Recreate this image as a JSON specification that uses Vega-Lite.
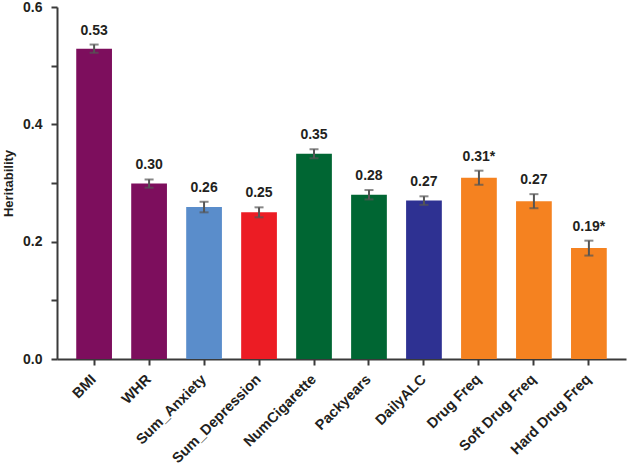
{
  "$schema": "https://vega.github.io/schema/vega-lite/v6.json",
  "autosize": "none",
  "width": 569,
  "height": 352,
  "padding": {"left": 57, "top": 7, "right": 6, "bottom": 105},
  "background": "white",
  "config": {
    "view": {"stroke": null},
    "font": "Liberation Sans",
    "axis": {"labelFont": "Liberation Sans", "titleFont": "Liberation Sans", "grid": false}
  },
  "data": {
    "values": [
      {"trait": "BMI", "h2": 0.529, "lo": 0.522, "hi": 0.536, "label": "0.53", "color": "#7D0E5D"},
      {"trait": "WHR", "h2": 0.299, "lo": 0.292, "hi": 0.306, "label": "0.30", "color": "#7D0E5D"},
      {"trait": "Sum_Anxiety", "h2": 0.259, "lo": 0.250, "hi": 0.268, "label": "0.26", "color": "#5A8DCB"},
      {"trait": "Sum_Depression", "h2": 0.250, "lo": 0.2415, "hi": 0.2585, "label": "0.25", "color": "#EC1C24"},
      {"trait": "NumCigarette", "h2": 0.350, "lo": 0.3424, "hi": 0.3576, "label": "0.35", "color": "#006633"},
      {"trait": "Packyears", "h2": 0.280, "lo": 0.272, "hi": 0.288, "label": "0.28", "color": "#006633"},
      {"trait": "DailyALC", "h2": 0.270, "lo": 0.2627, "hi": 0.2773, "label": "0.27", "color": "#2E3192"},
      {"trait": "Drug Freq", "h2": 0.309, "lo": 0.297, "hi": 0.321, "label": "0.31*", "color": "#F58220"},
      {"trait": "Soft Drug Freq", "h2": 0.269, "lo": 0.257, "hi": 0.281, "label": "0.27", "color": "#F58220"},
      {"trait": "Hard Drug Freq", "h2": 0.189, "lo": 0.1763, "hi": 0.2017, "label": "0.19*", "color": "#F58220"}
    ]
  },
  "encoding": {
    "x": {
      "field": "trait",
      "type": "nominal",
      "sort": null,
      "scale": {"paddingInner": 0.35, "paddingOuter": 0.35},
      "axis": {
        "title": null,
        "labelAngle": -45,
        "labelAlign": "right",
        "labelBaseline": "middle",
        "labelFontSize": 14.5,
        "labelFontWeight": "bold",
        "labelColor": "#231f20",
        "labelPadding": 12,
        "tickSize": 6,
        "tickWidth": 2,
        "tickColor": "#3a3a3a",
        "domainWidth": 2,
        "domainColor": "#3a3a3a"
      }
    }
  },
  "layer": [
    {
      "mark": {"type": "bar"},
      "encoding": {
        "y": {
          "field": "h2",
          "type": "quantitative",
          "scale": {"domain": [0, 0.6], "nice": false},
          "axis": {
            "title": "Heritability",
            "titleFontSize": 13,
            "titleFontWeight": "bold",
            "titleColor": "#231f20",
            "titlePadding": 7,
            "values": [0, 0.1, 0.2, 0.3, 0.4, 0.5, 0.6],
            "labelExpr": "(round(datum.value*10) % 2 == 0) ? format(datum.value, '.1f') : ''",
            "labelFontSize": 14,
            "labelFontWeight": "bold",
            "labelColor": "#231f20",
            "labelPadding": 9,
            "tickSize": 6,
            "tickWidth": 2,
            "tickColor": "#3a3a3a",
            "domainWidth": 2,
            "domainColor": "#3a3a3a"
          }
        },
        "color": {"field": "color", "type": "nominal", "scale": null, "legend": null}
      }
    },
    {
      "mark": {"type": "rule", "color": "#555555", "strokeWidth": 2},
      "encoding": {
        "y": {"field": "lo", "type": "quantitative"},
        "y2": {"field": "hi"}
      }
    },
    {
      "mark": {"type": "tick", "color": "#555555", "thickness": 2, "size": 9},
      "encoding": {"y": {"field": "lo", "type": "quantitative"}}
    },
    {
      "mark": {"type": "tick", "color": "#555555", "thickness": 2, "size": 9},
      "encoding": {"y": {"field": "hi", "type": "quantitative"}}
    },
    {
      "mark": {"type": "text", "baseline": "bottom", "dy": -7, "fontSize": 14, "fontWeight": "bold", "color": "#231f20"},
      "encoding": {
        "y": {"field": "hi", "type": "quantitative"},
        "text": {"field": "label"}
      }
    }
  ]
}
